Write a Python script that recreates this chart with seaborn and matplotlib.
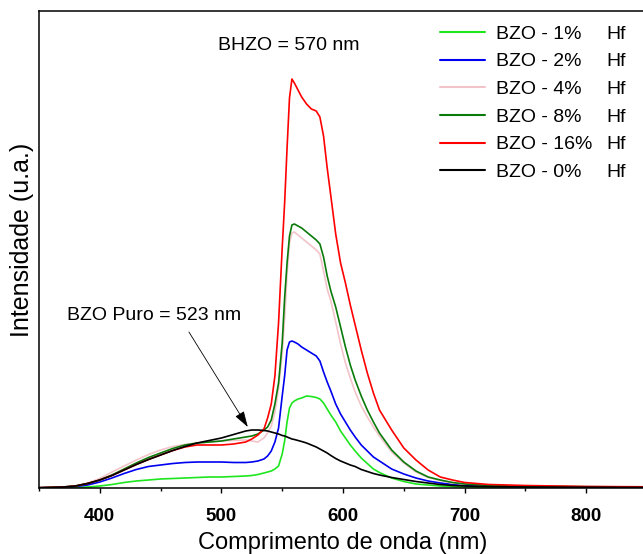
import numpy as np
import pandas as pd
import matplotlib
matplotlib.use('Agg')
import matplotlib.pyplot as plt
from matplotlib.ticker import MultipleLocator
import seaborn as sns

# wavelength grid (nm) and PL intensity (a.u.)
wl = [350, 370, 380, 390, 400, 410, 420, 430, 440, 450, 460, 470, 480, 490, 500,
      510, 520, 525, 530, 535, 538, 541, 544, 547, 550, 552, 554, 556, 558, 560,
      563, 566, 570, 574, 578, 581, 584, 587, 590, 594, 598, 602, 606, 610, 615,
      620, 625, 630, 640, 650, 660, 670, 680, 690, 700, 720, 750, 800, 850]

hf1 = [0, 0.2, 0.5, 1, 2, 3.5, 5.5, 7, 8, 9, 9.5, 10, 10.5, 11, 11,
       11.5, 12, 12.5, 13.5, 15, 16, 17, 19, 22, 34, 47, 66, 80, 85, 87,
       89, 90, 92, 91.5, 90.5, 89, 85, 79, 73, 66, 57, 50, 43, 37, 30,
       24.5, 19, 15.5, 10, 6.5, 4, 3, 2, 1.5, 1, 0.8, 0.6, 0.5, 0.5]

hf2 = [0.2, 0.6, 1.5, 3, 6, 10, 14.5, 18.5, 21.5, 23, 24.5, 25.5, 26, 26, 26,
       25.5, 25.5, 26, 27, 29, 32, 37, 46, 60, 92, 112, 138, 146, 147, 146,
       144, 141, 138, 135, 132, 127, 116, 106, 97, 84, 74, 66, 58, 51, 43,
       37, 31, 27, 19, 14, 10, 7, 5, 3.5, 2.5, 1.8, 1.3, 1, 0.8]

hf4 = [0.3, 1, 2.2, 5, 9.5, 16, 22, 28, 33.5, 38, 41.5, 43.5, 45, 46, 47,
       47.5, 48, 47, 46, 50, 55, 62, 76, 100, 135, 170, 215, 245, 255, 256,
       253, 250, 246, 242, 238, 234, 217, 199, 187, 166, 144, 125, 110, 96, 82,
       71, 61, 52, 36, 25, 16, 10.5, 7.5, 5, 4, 2.5, 1.8, 1.3, 1]

hf8 = [0.3, 1, 2, 4.5, 8, 13, 19, 25, 30.5, 35, 39.5, 43, 45, 46, 47,
       49, 51, 52, 54, 58, 61, 68, 84, 105, 145, 190, 225, 252, 263, 264,
       262, 260, 256, 252, 248, 244, 231, 212, 197, 181, 161, 141, 123, 108, 92,
       78, 66, 55, 38, 26, 17, 11, 8, 5.5, 4, 2.5, 1.8, 1.3, 1]

hf16 = [0.3, 1, 2, 4.5, 8, 12.5, 18, 23.5, 28.5, 33, 37.5, 41, 43, 43, 43,
        44, 46, 49, 53, 59, 70, 84, 112, 165, 240, 285, 340, 390, 409, 405,
        398, 391, 384, 379, 377, 371, 352, 320, 292, 254, 225, 205, 183, 163, 138,
        115, 95, 78, 58, 40, 28, 18, 11, 8, 5.5, 3.5, 2.5, 1.5, 1.2]

hf0 = [0.3, 1, 2, 4.5, 8, 12.5, 18, 23.5, 28.5, 33, 37.5, 41.5, 45, 47.5, 50,
       53.5, 57, 58, 58, 57.5, 57, 56, 55, 54, 52.5, 52, 51, 50, 49, 48.5,
       47.5, 46.5, 45, 43, 41, 39, 37, 35, 32.5, 29.5, 27, 25, 23, 21.5, 18.5,
       16.5, 14.5, 13, 10.5, 8.5, 6.5, 5, 3.5, 2.5, 2, 1.4, 1, 0.8, 0.6]

labels = ['BZO - 1%', 'BZO - 2%', 'BZO - 4%', 'BZO - 8%', 'BZO - 16%', 'BZO - 0%']
series = [hf1, hf2, hf4, hf8, hf16, hf0]
colors = ['#1ee61e', '#0000f0', '#f2c4ca', '#0a7a0a', '#ff0000', '#000000']
xticks = [400, 500, 600, 700, 800]

df = pd.concat([pd.DataFrame({'wl': wl, 'I': s, 'amostra': lab})
                for s, lab in zip(series, labels)], ignore_index=True)

sns.set_style('ticks')
plt.rcParams['font.family'] = ['Liberation Sans', 'DejaVu Sans']
plt.rcParams['text.color'] = 'black'
plt.rcParams['axes.labelcolor'] = 'black'
plt.rcParams['xtick.color'] = 'black'
plt.rcParams['ytick.color'] = 'black'

fig = plt.figure(figsize=(6.43, 5.54), dpi=100)
ax = fig.add_axes([39 / 643, 1 - 488 / 554, 608 / 643, 477 / 554])

sns.lineplot(data=df, x='wl', y='I', hue='amostra', hue_order=labels,
             palette=colors, estimator=None, sort=True, linewidth=1.2, ax=ax)

ax.set_xlim(350, 850)
ax.set_ylim(0, 477)
ax.set_yticks([])
ax.set_xticks(xticks, labels=[str(v) for v in xticks], fontweight='bold',
              fontsize=13.5)
ax.xaxis.set_minor_locator(MultipleLocator(50))
ax.tick_params(axis='x', which='major', direction='out', length=3.6, width=1,
               pad=11)
ax.tick_params(axis='x', which='minor', direction='out', length=2.4, width=1)
for sp in ax.spines.values():
    sp.set_visible(True)
    sp.set_color('black')
    sp.set_linewidth(1.1)

ax.set_xlabel('Comprimento de onda (nm)', fontsize=17)
ax.set_ylabel('Intensidade (u.a.)', fontsize=18)
ax.xaxis.set_label_coords(0.5, -0.092)
ax.yaxis.set_label_coords(-0.008, 0.52)

handles, labs = ax.get_legend_handles_labels()
leg = ax.legend(handles, labs, loc='upper left', frameon=False, fontsize=14,
                bbox_to_anchor=(440 / 643, 1 - 25 / 554),
                bbox_transform=fig.transFigure, borderpad=0, borderaxespad=0,
                handlelength=2.3, handletextpad=0.6, labelspacing=0.52)
for h in leg.get_lines():
    h.set_linewidth(1.5)

ax.text(497, 443, 'BHZO = 570 nm', fontsize=14, va='center', ha='left')
ax.text(372.7, 173, 'BZO Puro = 523 nm', fontsize=14, va='center', ha='left')
ax.annotate('', xy=(521.7, 61), xytext=(473.3, 156),
            arrowprops=dict(arrowstyle='-|>,head_length=0.7,head_width=0.22',
                            color='black', lw=0.6, shrinkA=0, shrinkB=0,
                            mutation_scale=14))

# "Hf" column aligned beside the legend labels
fig.canvas.draw()
for t in leg.get_texts():
    bb = t.get_window_extent()
    fig.text(606.7 / 643, (bb.y0 + bb.y1) / 2 / 554, 'Hf', fontsize=14,
             va='center', ha='left')

fig.savefig('out.png', dpi=100)
